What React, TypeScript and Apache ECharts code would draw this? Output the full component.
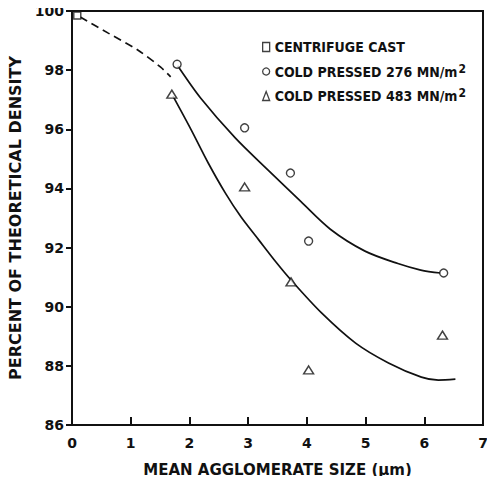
import React, { useEffect, useRef } from 'react';
import * as echarts from 'echarts';

// Axis ranges / ticks
const xMin = 0;
const xMax = 7;
const xInterval = 1;
const yMin = 86;
const yMax = 100;
const yInterval = 2;

// Measured points [mean agglomerate size (µm), % theoretical density]
const centrifugeCast: number[][] = [[0.09, 99.85]];
const coldPressed276: number[][] = [
  [1.79, 98.2],
  [2.94, 96.05],
  [3.72, 94.52],
  [4.03, 92.22],
  [6.33, 91.14],
];
const coldPressed483: number[][] = [
  [1.7, 97.19],
  [2.94, 94.05],
  [3.73, 90.84],
  [4.03, 87.86],
  [6.31, 89.04],
];

// Drawn curves
const dashedCurve: number[][] = [
  [0.14, 99.8],
  [0.61, 99.26],
  [1.12, 98.68],
  [1.51, 98.1],
  [1.68, 97.77],
];
const upperCurve: number[][] = [
  [1.8, 98.15],
  [2.19, 97.06],
  [2.78, 95.71],
  [3.34, 94.62],
  [3.9, 93.55],
  [4.4, 92.62],
  [4.99, 91.88],
  [5.55, 91.46],
  [5.94, 91.24],
  [6.28, 91.14],
];
const lowerCurve: number[][] = [
  [1.72, 97.12],
  [2.03, 95.98],
  [2.32, 94.86],
  [2.61, 93.85],
  [2.88, 93.03],
  [3.18, 92.26],
  [3.47, 91.52],
  [3.74, 90.88],
  [4.25, 89.79],
  [4.83, 88.77],
  [5.39, 88.1],
  [5.95, 87.62],
  [6.24, 87.52],
  [6.53, 87.55],
];

const names = ['CENTRIFUGE CAST', 'COLD PRESSED 276 MN/m²', 'COLD PRESSED 483 MN/m²'];

const INK = '#111';
const FONT = "'DejaVu Sans', 'Liberation Sans', sans-serif";
const LEGEND_FONT = "'DejaVu Sans Condensed', 'DejaVu Sans', sans-serif";

export default function App() {
  const ref = useRef<HTMLDivElement>(null);

  useEffect(() => {
    if (!ref.current) return;
    const chart = echarts.init(ref.current, undefined, { renderer: 'svg' });
    const markerStyle = { color: '#fff', borderColor: INK, borderWidth: 1.4 };
    const curveBase = {
      type: 'line',
      smooth: 0.3,
      showSymbol: false,
      symbol: 'none',
      silent: true,
      z: 2,
    };
    const option: any = {
      animation: false,
      backgroundColor: '#fff',
      grid: {
        left: 72,
        right: 12,
        top: 11,
        bottom: 59,
        show: true,
        borderColor: INK,
        borderWidth: 2,
        backgroundColor: 'transparent',
        outerBoundsMode: 'none',
      },
      legend: {
        orient: 'vertical',
        left: 257,
        top: 35,
        itemWidth: 7,
        itemHeight: 9,
        itemGap: 8.5,
        selectedMode: false,
        itemStyle: { color: '#fff', borderColor: INK, borderWidth: 1.3 },
        data: [
          { name: names[0], icon: 'rect' },
          { name: names[1], icon: 'circle' },
          { name: names[2], icon: 'triangle' },
        ],
        formatter: (name: string) => {
          if (name.endsWith('²')) {
            return '{a|' + name.slice(0, -1) + '}{s|2}';
          }
          return '{a|' + name + '}';
        },
        textStyle: {
          rich: {
            a: {
              fontFamily: LEGEND_FONT,
              fontWeight: 'bold',
              fontSize: 14,
              lineHeight: 18,
              color: INK,
            },
            s: {
              fontFamily: LEGEND_FONT,
              fontWeight: 'bold',
              fontSize: 12,
              lineHeight: 4,
              verticalAlign: 'top',
              color: INK,
              padding: [0, 0, 0, 1],
            },
          },
        },
      },
      xAxis: {
        type: 'value',
        min: xMin,
        max: xMax,
        interval: xInterval,
        name: 'MEAN AGGLOMERATE SIZE (µm)',
        nameLocation: 'middle',
        nameGap: 37,
        nameTextStyle: { fontFamily: FONT, fontWeight: 'bold', fontSize: 15, color: INK },
        axisLine: { show: true, lineStyle: { color: INK, width: 2 } },
        axisTick: { show: true, inside: true, length: 8, lineStyle: { color: INK, width: 2 } },
        axisLabel: { fontFamily: FONT, fontWeight: 'bold', fontSize: 14, color: INK, margin: 11 },
        splitLine: { show: false },
      },
      yAxis: {
        type: 'value',
        min: yMin,
        max: yMax,
        interval: yInterval,
        name: 'PERCENT OF THEORETICAL DENSITY',
        nameLocation: 'middle',
        nameGap: 45,
        nameTextStyle: { fontFamily: FONT, fontWeight: 'bold', fontSize: 16, color: INK },
        axisLine: { show: true, lineStyle: { color: INK, width: 2 } },
        axisTick: { show: true, inside: false, length: 6, lineStyle: { color: INK, width: 2 } },
        axisLabel: { fontFamily: FONT, fontWeight: 'bold', fontSize: 14, color: INK, margin: 8 },
        splitLine: { show: false },
      },
      series: [
        { ...curveBase, data: dashedCurve, lineStyle: { color: INK, width: 1.7, type: [8, 5] } },
        { ...curveBase, data: upperCurve, lineStyle: { color: INK, width: 1.7 } },
        { ...curveBase, data: lowerCurve, lineStyle: { color: INK, width: 1.7 } },
        {
          name: names[0],
          type: 'scatter',
          data: centrifugeCast,
          symbol: 'rect',
          symbolSize: 7,
          itemStyle: markerStyle,
          z: 5,
        },
        {
          name: names[1],
          type: 'scatter',
          data: coldPressed276,
          symbol: 'circle',
          symbolSize: 8,
          itemStyle: markerStyle,
          z: 5,
        },
        {
          name: names[2],
          type: 'scatter',
          data: coldPressed483,
          symbol: 'triangle',
          symbolSize: [10, 8],
          itemStyle: markerStyle,
          z: 5,
        },
      ],
    };
    chart.setOption(option);
    return () => chart.dispose();
  }, []);

  return <div ref={ref} style={{ width: 495, height: 484, margin: -8 }} />;
}
